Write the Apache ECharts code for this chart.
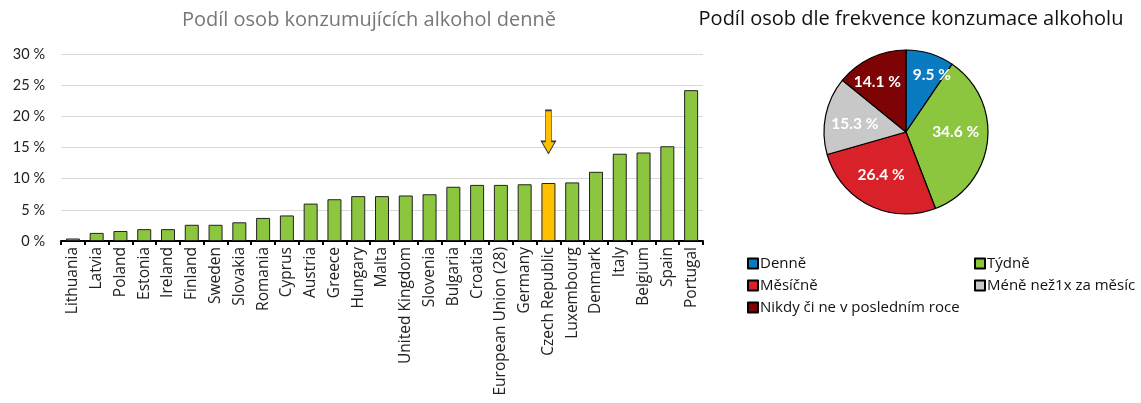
<!DOCTYPE html>
<html><head><meta charset="utf-8">
<script src="https://cdn.jsdelivr.net/npm/echarts@6/dist/echarts.min.js"></script>
<style>html,body{margin:0;padding:0;background:#fff}#c{width:1141px;height:403px}</style>
</head><body><div id="c"></div>
<script>
const countries = ['Lithuania','Latvia','Poland','Estonia','Ireland','Finland','Sweden','Slovakia','Romania','Cyprus','Austria','Greece','Hungary','Malta','United Kingdom','Slovenia','Bulgaria','Croatia','European Union (28)','Germany','Czech Republic','Luxembourg','Denmark','Italy','Belgium','Spain','Portugal'];
const dailyShare = [0.4,1.3,1.6,1.9,1.9,2.6,2.6,3.0,3.7,4.1,6.0,6.7,7.2,7.2,7.3,7.5,8.7,9.0,9.0,9.1,9.3,9.4,11.1,14.0,14.2,15.2,24.2];
const highlight = 'Czech Republic';
const freqLabels = ['Denně','Týdně','Měsíčně','Méně než1x za měsíc','Nikdy či ne v posledním roce'];
const freqValues = [9.5,34.6,26.4,15.3,14.1];
const freqColors = ['#0a7bc1','#8cc63f','#d9212a','#c8c8c8','#7e0304'];
const yTicks = [0,5,10,15,20,25,30];

// style: how far out (fraction of the pie radius) each slice's label sits, plus a small pixel nudge
const LABEL_RADIUS = [0.74,0.61,0.6,0.65,0.7];
const LABEL_NUDGE = [[8,1],[0,-6],[-3,-1],[1,3],[-4,2]];
const FONT = 'Open Sans';
const chart = echarts.init(document.getElementById('c'));
const barData = countries.map((c,i)=>({value: dailyShare[i], itemStyle:{color: c===highlight ? '#ffc000' : '#8cc63f'}}));
const hiIdx = countries.indexOf(highlight);
const pieData = freqLabels.map((n,i)=>({name:n, value:freqValues[i], itemStyle:{color:freqColors[i]}}));
const freqSum = freqValues.reduce((a,b)=>a+b,0);
// label anchors: middle angle of each slice, placed on a hidden polar system matching the pie
let acc = 0;
const labelPts = freqValues.map((v,i)=>{ const mid = acc + v/2; acc += v;
  return {value:[LABEL_RADIUS[i], mid], label:{offset:LABEL_NUDGE[i]}}; });
const PIE_C = [906,132], PIE_R = 82;

chart.setOption({
  textStyle:{fontFamily:FONT},
  animation:false,
  title:[
    {text:'Podíl osob konzumujících alkohol denně', left:364, top:5, textAlign:'center',
     textStyle:{fontFamily:FONT, fontSize:20, fontWeight:'normal', color:'#777'}},
    {text:'Podíl osob dle frekvence konzumace alkoholu', left:906, top:4, textAlign:'center',
     textStyle:{fontFamily:FONT, fontSize:20, fontWeight:'normal', color:'#111'}}
  ],
  grid:{left:61, right:438, top:54, bottom:162},
  xAxis:{type:'category', data:countries,
    axisLine:{lineStyle:{color:'#000', width:2}},
    axisTick:{show:true, length:4, lineStyle:{color:'#000', width:2}},
    axisLabel:{rotate:90, fontSize:15.5, color:'#222', fontFamily:FONT, margin:6, interval:0}},
  yAxis:{type:'value', min:yTicks[0], max:yTicks[yTicks.length-1], interval:5,
    axisLine:{show:false}, axisTick:{show:false},
    splitLine:{lineStyle:{color:'#d9d9d9', width:1}},
    axisLabel:{formatter:'{value} %', fontSize:14.5, color:'#222', fontFamily:'Lato', margin:16}},
  polar:{center:PIE_C, radius:PIE_R},
  angleAxis:{type:'value', min:0, max:freqSum, startAngle:90, clockwise:true, show:false},
  radiusAxis:{type:'value', min:0, max:1, show:false},
  legend:[
    {data:[freqLabels[0],freqLabels[2],freqLabels[4]], orient:'vertical', left:742, top:251,
     itemWidth:10, itemHeight:10, itemGap:7, icon:'rect',
     textStyle:{fontFamily:FONT, fontSize:15, color:'#111', padding:[0,0,0,-3]}},
    {data:[freqLabels[1],freqLabels[3]], orient:'vertical', left:969, top:251,
     itemWidth:10, itemHeight:10, itemGap:7, icon:'rect',
     textStyle:{fontFamily:FONT, fontSize:15, color:'#111', padding:[0,0,0,-3]}}
  ],
  series:[
    {type:'bar', data:barData, barWidth:14,
     itemStyle:{borderColor:'#222', borderWidth:1},
     markPoint:{silent:true, symbol:'path://M4,0 L10,0 L10,31 L14,31 L7,43 L0,31 L4,31 Z',
       symbolSize:[14,43], symbolKeepAspect:false,
       itemStyle:{color:'#ffc000', borderColor:'#333', borderWidth:1},
       label:{show:false},
       data:[{coord:[hiIdx, 17.5]}]}},
    {type:'pie', center:PIE_C, radius:[0,PIE_R], startAngle:90, clockwise:true,
     data:pieData, label:{show:false}, labelLine:{show:false},
     itemStyle:{borderColor:'#000', borderWidth:1.2}, emphasis:{disabled:true}},
    {type:'scatter', coordinateSystem:'polar', data:labelPts, symbolSize:0, z:10, silent:true,
     itemStyle:{opacity:1, color:'#fff'}, emphasis:{disabled:true},
     label:{show:true, position:'inside', formatter:p=>freqValues[p.dataIndex].toFixed(1)+' %',
       color:'#fff', opacity:1, textBorderWidth:0, fontWeight:'bold', fontSize:15.5, fontFamily:'Lato'}}
  ]
});
</script></body></html>
